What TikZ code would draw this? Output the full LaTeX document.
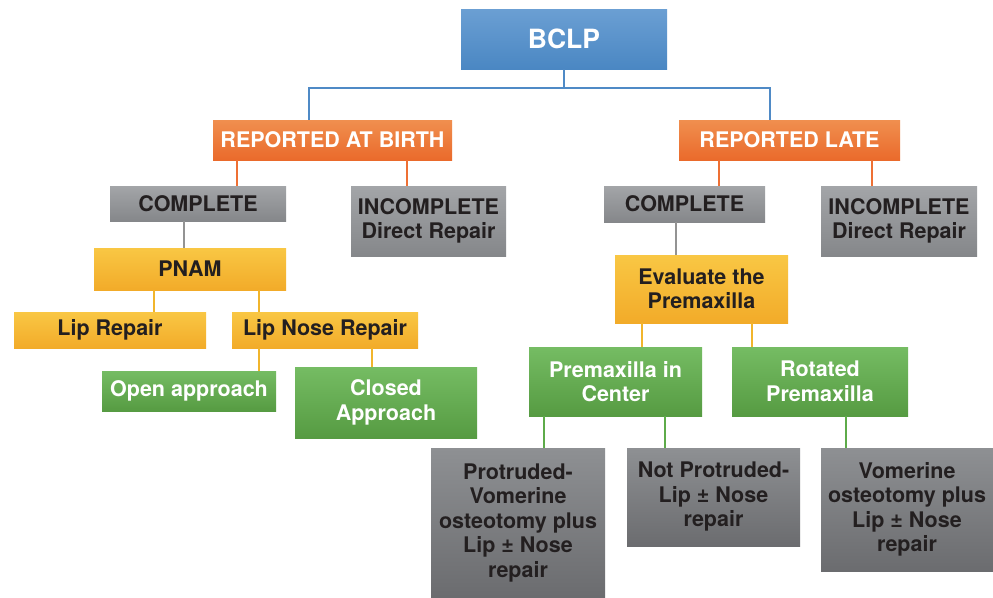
\documentclass[tikz,border=0pt]{standalone}
\usepackage{fontspec}
\setmainfont{TeX Gyre Heros}
\definecolor{blueT}{HTML}{6B9FD3}\definecolor{blueB}{HTML}{4A87C3}
\definecolor{oraT}{HTML}{F08F4F}\definecolor{oraB}{HTML}{EA6A2B}
\definecolor{gryT}{HTML}{A3A5A8}\definecolor{gryB}{HTML}{85878A}
\definecolor{dgrT}{HTML}{8E9093}\definecolor{dgrB}{HTML}{6B6C6F}
\definecolor{yelT}{HTML}{F9C744}\definecolor{yelB}{HTML}{F2AB29}
\definecolor{grnT}{HTML}{75BC63}\definecolor{grnB}{HTML}{569B42}
\definecolor{blueL}{HTML}{4F8AC6}\definecolor{oraL}{HTML}{EE7034}
\definecolor{gryL}{HTML}{939393}\definecolor{yelL}{HTML}{F1B52C}
\definecolor{grnL}{HTML}{5EAB4A}\definecolor{txtD}{HTML}{231F20}
\tikzset{
  box/.style={inner sep=0pt, align=center, font=\bfseries\fontsize{21.5}{24.5}\selectfont},
  bluebox/.style={box, top color=blueT, bottom color=blueB, text=white, font=\bfseries\fontsize{26.5}{30}\selectfont},
  orabox/.style={box, top color=oraT, bottom color=oraB, text=white},
  grybox/.style={box, top color=gryT, bottom color=gryB, text=txtD},
  dgrbox/.style={box, top color=dgrT, bottom color=dgrB, text=txtD},
  yelbox/.style={box, top color=yelT, bottom color=yelB, text=txtD},
  grnbox/.style={box, top color=grnT, bottom color=grnB, text=white},
  wh/.style 2 args={minimum width=#1pt, minimum height=#2pt},
  link/.style={line width=2.5pt},
  bline/.style={link, draw=blueL},
  oline/.style={link, draw=oraL},
  gline/.style={link, draw=gryL},
  yline/.style={link, draw=yelL},
  nline/.style={link, draw=grnL},
}
\begin{document}
\begin{tikzpicture}[x=1pt, y=-1pt]
\fill[white] (0,0) rectangle (993,597);
\useasboundingbox (0,0) rectangle (993,597);
% nodes
\node[bluebox, wh={206}{60}] (bclp) at (564,39) {BCLP};
\node[orabox, wh={239}{40}] (rab) at (332.5,140) {REPORTED AT BIRTH};
\node[orabox, wh={221}{40}] (rl) at (789.5,140) {REPORTED LATE};
\node[grybox, wh={176}{35}] (c1) at (198,203.5) {COMPLETE};
\node[grybox, wh={155}{70}] (i1) at (428.5,221) {INCOMPLETE\\Direct Repair};
\node[yelbox, wh={192}{42}] (pnam) at (190,269) {PNAM};
\node[yelbox, wh={192}{36}] (lr) at (110,330) {Lip Repair};
\node[yelbox, wh={186}{36}] (lnr) at (325,330) {Lip Nose Repair};
\node[grnbox, wh={174}{40}] (oa) at (189,391) {Open approach};
\node[grnbox, wh={182}{71}] (ca) at (386,402.5) {Closed\\Approach};
\node[grybox, wh={161}{36}] (c2) at (684.5,204) {COMPLETE};
\node[grybox, wh={156}{70}] (i2) at (899,221) {INCOMPLETE\\Direct Repair};
\node[yelbox, wh={173}{68}] (ev) at (701.5,289) {Evaluate the\\Premaxilla};
\node[grnbox, wh={173}{69}] (pc) at (615.5,381.5) {Premaxilla in\\Center};
\node[grnbox, wh={176}{69}] (rp) at (820,381.5) {Rotated\\Premaxilla};
\node[dgrbox, wh={174}{149}] (pr) at (518,522.5) {Protruded-\\Vomerine\\osteotomy plus\\Lip ± Nose\\repair};
\node[dgrbox, wh={173}{98}] (np) at (713.5,497) {Not Protruded-\\Lip ± Nose\\repair};
\node[dgrbox, wh={172}{123}] (vo) at (907,509.5) {Vomerine\\osteotomy plus\\Lip ± Nose\\repair};
% connectors
\draw[bline] (bclp.south) -- (bclp.south |- 0,88);
\draw[bline] (309,0 |- rab.north) |- (bclp.south |- 0,88) -| (770,0 |- rl.north);
\draw[oline] (237,0 |- rab.south) -- (237,0 |- c1.north);
\draw[oline] (407,0 |- rab.south) -- (407,0 |- i1.north);
\draw[oline] (719,0 |- rl.south) -- (719,0 |- c2.north);
\draw[oline] (872,0 |- rl.south) -- (872,0 |- i2.north);
\draw[gline] (184,0 |- c1.south) -- (184,0 |- pnam.north);
\draw[gline] (676,0 |- c2.south) -- (676,0 |- ev.north);
\draw[yline] (154,0 |- pnam.south) -- (154,0 |- lr.north);
\draw[yline] (259,0 |- pnam.south) -- (259,0 |- lnr.north);
\draw[yline] (259,0 |- lnr.south) -- (259,0 |- oa.north);
\draw[yline] (372,0 |- lnr.south) -- (372,0 |- ca.north);
\draw[yline] (642,0 |- ev.south) -- (642,0 |- pc.north);
\draw[yline] (752,0 |- ev.south) -- (752,0 |- rp.north);
\draw[nline] (544,0 |- pc.south) -- (544,0 |- pr.north);
\draw[nline] (665,0 |- pc.south) -- (665,0 |- np.north);
\draw[nline] (846,0 |- rp.south) -- (846,0 |- vo.north);
\end{tikzpicture}
\end{document}
